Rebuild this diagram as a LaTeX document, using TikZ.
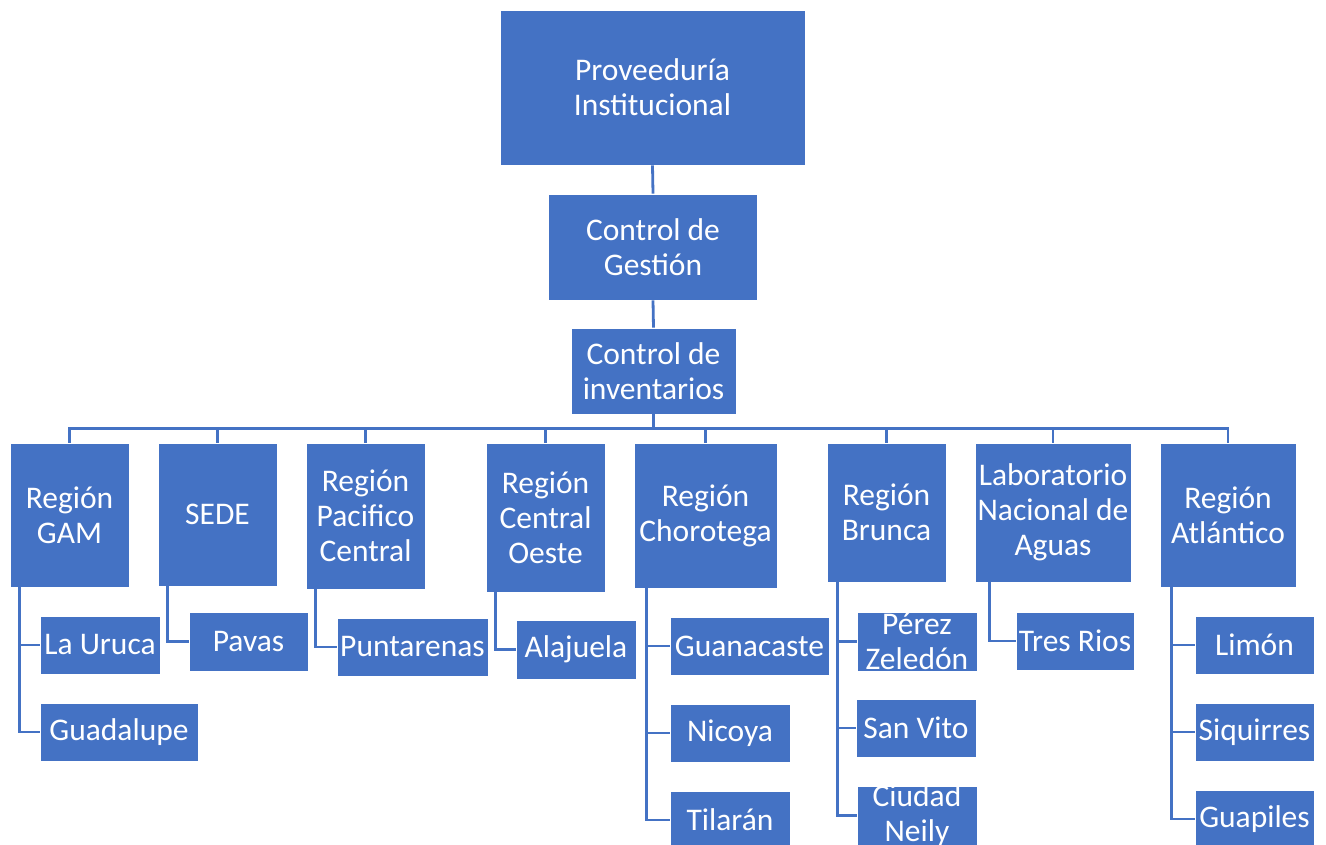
\documentclass[tikz,border=0pt]{standalone}
\usepackage{fontspec}
\setmainfont{Carlito}
\definecolor{orgblue}{HTML}{4472C4}
\begin{document}
\begin{tikzpicture}[x=1pt,y=-1pt,
  box/.style={draw=white,line width=0.8pt,fill=orgblue,text=white,align=center,
    inner sep=0pt,font=\fontsize{31.5}{35}\selectfont},
  txt/.style={text=white,align=center,inner sep=0pt,font=\fontsize{31.5}{35}\selectfont},
  link/.style={draw=orgblue,line width=2.8pt}]
\useasboundingbox (0,0) rectangle (1326,844);
% top of the chart
\node[box,minimum width=305,minimum height=155] (prov) at (652.5,87.5) {Proveeduría\\Institucional};
\node[box,minimum width=209,minimum height=106] (gest) at (653,247) {Control de\\Gestión};
\node[box,minimum width=165,minimum height=86] (inv) at (653.5,371) {Control de\\inventarios};
\draw[link] (prov.south) -- (gest.north);
\draw[link] (gest.south) -- (inv.north);
% regions
\node[box,minimum width=119,minimum height=144] (gam) at (69.5,515) {Región\\GAM};
\node[box,minimum width=119,minimum height=143] (sede) at (217.5,514.5) {SEDE};
\node[box,minimum width=119,minimum height=146] (pac) at (365.5,516) {Región\\Pacifico\\Central};
\node[box,minimum width=119,minimum height=149] (coe) at (545.5,517.5) {Región\\Central\\Oeste};
\node[box,minimum width=143,minimum height=145] (cho) at (705.5,515.5) {Región\\Chorotega};
\node[box,minimum width=119,minimum height=139] (bru) at (886.5,512.5) {Región\\Brunca};
\node[box,minimum width=156,minimum height=139] (lab) at (1053,512.5) {Laboratorio\\Nacional de\\Aguas};
\node[box,minimum width=136,minimum height=144] (atl) at (1228,515) {Región\\Atlántico};
\foreach \c in {gam,sede,pac,coe,cho,bru,lab,atl}
  \draw[link] (inv.south) -- ++(0,14) -| (\c.north);
% offices
\node[box,minimum width=120,minimum height=58] (uruca) at (100,645) {La Uruca};
\node[box,minimum width=158,minimum height=58] (guad) at (119,732) {Guadalupe};
\node[box,minimum width=119,minimum height=59] (pavas) at (248.5,641.5) {Pavas};
\node[box,minimum width=151,minimum height=58] (punt) at (412.5,647) {Puntarenas};
\node[box,minimum width=120,minimum height=59] (ala) at (576,649.5) {Alajuela};
\node[box,minimum width=159,minimum height=58] (guan) at (749.5,646) {Guanacaste};
\node[box,minimum width=120,minimum height=58] (nic) at (730,733) {Nicoya};
\node[box,minimum width=120,minimum height=58] (til) at (730,820) {Tilarán};
\node[box,minimum width=120,minimum height=59] (pz) at (917,641.5) {};
\node[txt] (pz-t) at (pz) {Pérez\\Zeledón};
\node[box,minimum width=120,minimum height=58] (sv) at (916,728) {San Vito};
\node[box,minimum width=120,minimum height=59] (cn) at (917,815.5) {};
\node[txt] (cn-t) at (cn) {Ciudad\\Neily};
\node[box,minimum width=118,minimum height=58] (tres) at (1075,641) {Tres Rios};
\node[box,minimum width=119,minimum height=58] (lim) at (1254.5,645) {Limón};
\node[box,minimum width=119,minimum height=58] (siq) at (1254.5,732) {Siquirres};
\node[box,minimum width=119,minimum height=58] (guap) at (1254.5,819) {Guapiles};
\foreach \p/\s/\c in {gam/10/uruca,gam/10/guad,sede/10/pavas,pac/10/punt,coe/10/ala,
    cho/13/guan,cho/13/nic,cho/13/til,bru/11/pz,bru/11/sv,bru/11/cn,lab/15/tres,
    atl/12/lim,atl/12/siq,atl/12/guap}
  \draw[link] ([xshift=\s]\p.south west) |- (\c.west);
\end{tikzpicture}
\end{document}
